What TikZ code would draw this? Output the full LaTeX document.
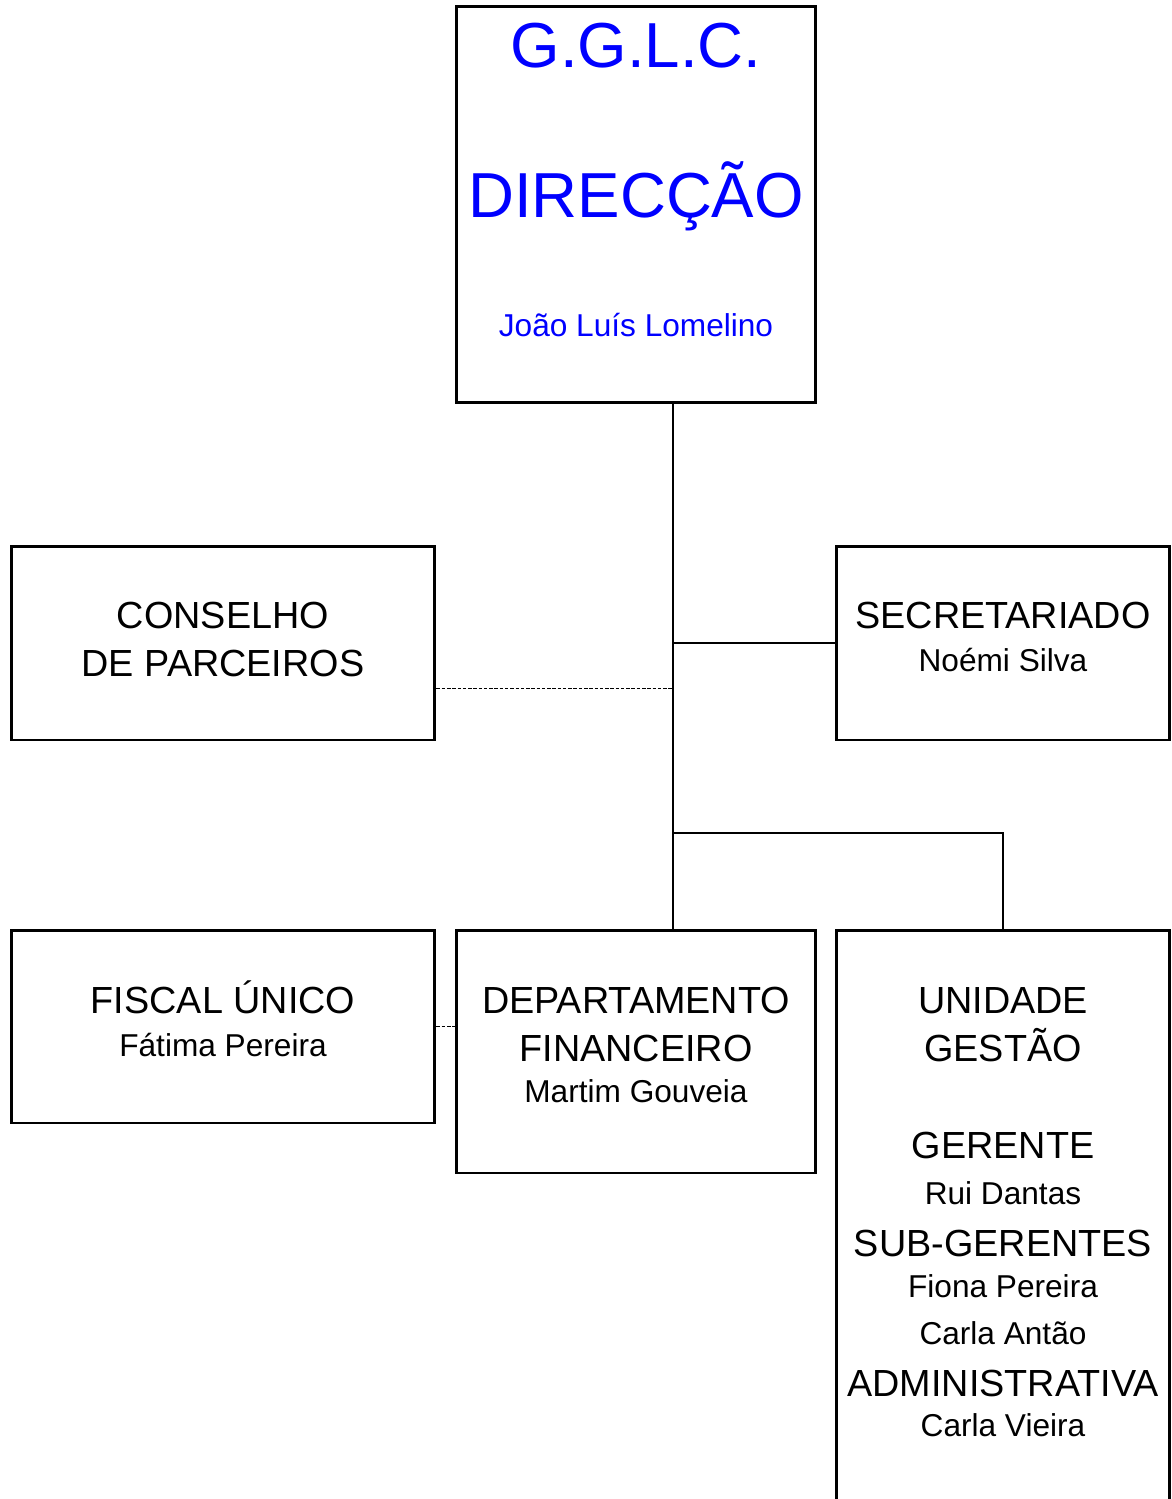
\documentclass[tikz,border=0pt]{standalone}
\usepackage{fontspec}
\setmainfont{Liberation Sans}
\usetikzlibrary{positioning}

\tikzset{
	box/.style = {draw, line width = 1.7pt, inner sep = 0pt},
	link/.style = {line width = 1.1pt},
	dotlink/.style = {line width = 0.5pt, dash pattern = on 2pt off 1pt},
	head/.style = {anchor = base, inner sep = 0pt, font = \fontsize{21.5}{25}\selectfont},
	who/.style = {anchor = base, inner sep = 0pt, font = \fontsize{18}{22}\selectfont},
	big/.style = {anchor = base, inner sep = 0pt, text = blue, font = \fontsize{36.2}{42}\selectfont}
}

\begin{document}
\begin{tikzpicture}[x = 0.02cm, y = -0.02cm]

\useasboundingbox (0,0) rectangle (1171,1499);
\clip (0,0) rectangle (1171,1499);

\node[box, minimum width = 7.2cm, minimum height = 7.94cm]	(dir)	at (636,204.5)	{};
\node[box, minimum width = 8.48cm, minimum height = 3.88cm]	(cons)	at (223,643)	{};
\node[box, minimum width = 6.68cm, minimum height = 3.88cm]	(secr)	at (1003,643)	{};
\node[box, minimum width = 8.48cm, minimum height = 3.86cm]	(fisc)	at (223,1026.5)	{};
\node[box, minimum width = 7.2cm, minimum height = 4.86cm]	(dept)	at (636,1051.5)	{};
\node[box, minimum width = 6.68cm, minimum height = 13.4cm]	(unid)	at (1003,1265)	{};

% direccao
\node[big]					at (636,67)		{G.G.L.C.};
\node[big]					at (636,217)	{DIRECÇÃO};
\node[who, text = blue]		at (636,336)	{João Luís Lomelino};

% side boxes
\node[head]		at (223,628)	{CONSELHO};
\node[head]		at (223,676)	{DE PARCEIROS};
\node[head]		at (1003,628)	{SECRETARIADO};
\node[who]		at (1003,671)	{Noémi Silva};

% bottom row
\node[head]		at (223,1013)	{FISCAL ÚNICO};
\node[who]		at (223,1056)	{Fátima Pereira};
\node[head]		at (636,1013)	{DEPARTAMENTO};
\node[head]		at (636,1061)	{FINANCEIRO};
\node[who]		at (636,1102)	{Martim Gouveia};
\node[head]		at (1003,1013)	{UNIDADE};
\node[head]		at (1003,1061)	{GESTÃO};
\node[head]		at (1003,1158)	{GERENTE};
\node[who]		at (1003,1204)	{Rui Dantas};
\node[head]		at (1003,1256)	{SUB-GERENTES};
\node[who]		at (1003,1297)	{Fiona Pereira};
\node[who]		at (1003,1344)	{Carla Antão};
\node[head]		at (1003,1396)	{ADMINISTRATIVA};
\node[who]		at (1003,1436)	{Carla Vieira};

\coordinate (trunk) at (673,403);
\coordinate (side) at (673,688);
\coordinate (fork) at (673,833);

\path[link]		(trunk)		edge	(trunk |- dept.north);
\path[link]		(secr.west)	edge	(secr.west -| trunk);
\draw[link]		(fork)		-|		(unid.north);
\path[dotlink]	(side -| cons.east)	edge	(side);
\path[dotlink]	(fisc.east)	edge	(fisc.east -| dept.west);

\end{tikzpicture}
\end{document}
